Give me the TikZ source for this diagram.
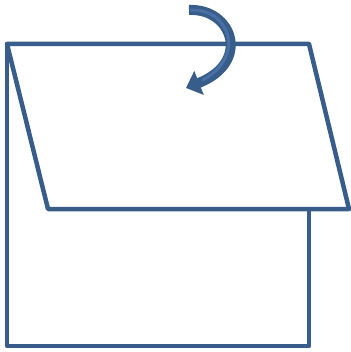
\documentclass[tikz,border=0pt]{standalone}
\usetikzlibrary{arrows.meta}
\definecolor{edgeblue}{RGB}{56,93,138}
\definecolor{fillblue}{RGB}{72,112,165}
\tikzset{
  shapeline/.style={draw=edgeblue, line width=4.5pt, line join=round},
}
\begin{document}
\begin{tikzpicture}[x=1pt,y=-1pt]
\useasboundingbox (0,0) rectangle (350,352);
\draw[shapeline] (7,44) rectangle (309,346);
\draw[shapeline, fill=white] (7,44) -- (309,44) -- (349,209) -- (48,209) -- cycle;
\draw[edgeblue, line width=10pt, -{Triangle[length=14pt,width=25pt]}]
  (189,10) .. controls (232,8) and (252,62) .. (186,88);
\draw[fillblue, line width=3pt, line cap=round]
  (191,10) .. controls (230,9) and (246,56) .. (203,80);
\end{tikzpicture}
\end{document}
